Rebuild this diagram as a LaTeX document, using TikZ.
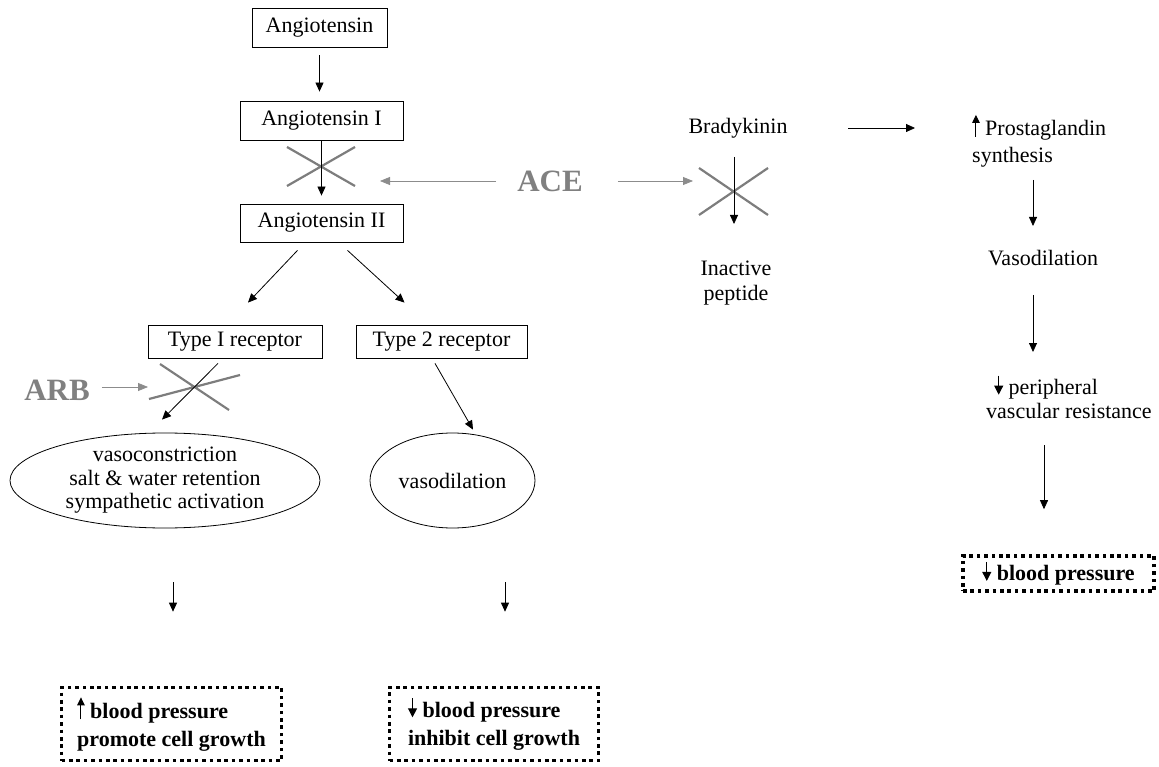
\documentclass[tikz,border=0pt]{standalone}
\usepackage{fontspec}
\setmainfont{Liberation Serif}
\usepackage{tikz}
\usetikzlibrary{arrows.meta,positioning,shapes.geometric,calc}
\definecolor{acegray}{RGB}{128,128,128}
\definecolor{xgray}{RGB}{125,125,125}
\definecolor{lightarr}{RGB}{140,140,140}
\newcommand{\txtsize}{\fontsize{22}{24}\selectfont}
\newcommand{\upmark}{\tikz[baseline=0pt]\draw[solid, black, line width=1pt, -{Triangle[length=8pt,width=7.5pt]}] (0pt,-1pt) -- (0pt,21pt);}
\newcommand{\downmark}{\tikz[baseline=0pt]\draw[solid, black, line width=1pt, -{Triangle[length=9pt,width=9pt]}] (0pt,19pt) -- (0pt,0pt);}
\tikzset{
  pbox/.style={draw, line width=0.8pt, font=\txtsize, inner sep=0pt, minimum height=38pt},
  oval/.style={draw, ellipse, line width=0.8pt, font=\fontsize{22}{23.5}\selectfont,
               align=center, inner sep=0pt, minimum height=95pt},
  dotbox/.style={draw, line width=3.6pt, dash pattern=on 3.6pt off 3.8pt,
                 font=\fontsize{22}{28}\selectfont\bfseries, align=left, inner sep=0pt},
  plain/.style={font=\txtsize, inner sep=0pt, align=center},
  drug/.style={font=\fontsize{31}{34}\selectfont\bfseries, text=acegray, inner sep=0pt},
  flow/.style={line width=0.8pt, -{Triangle[length=9pt,width=8pt]}},
  hint/.style={line width=0.8pt, lightarr, -{Triangle[length=10pt,width=8pt]}},
  block/.style={line width=2.2pt, xgray},
}
\begin{document}
\begin{tikzpicture}[x=1pt, y=-1pt]
\useasboundingbox (0,0) rectangle (1159,767);
% Angiotensin chain
\node[pbox, minimum width=135pt, minimum height=39pt] (ang) at (319.5,27.5) {Angiotensin};
\node[pbox, minimum width=163pt, minimum height=39pt] (ang1) at (321.5,120.5) {Angiotensin I};
\node[pbox, minimum width=163pt] (ang2) at (321.5,223) {Angiotensin II};
\node[pbox, minimum width=174pt, minimum height=33pt] (rec1) at (235,341.5) {Type I receptor};
\node[pbox, minimum width=171pt, minimum height=33pt] (rec2) at (441.5,341.5) {Type 2 receptor};
\node[oval, minimum width=310pt] (eff1) at (165,480.5) {vasoconstriction\\salt \& water retention\\sympathetic activation};
\node[oval, minimum width=165pt] (eff2) at (452.5,480.5) {vasodilation};
\node[dotbox, minimum width=220pt, minimum height=73pt] (bp1) at (171.5,724) {\upmark\ blood pressure\\promote cell growth};
\node[dotbox, minimum width=209pt, minimum height=73pt] (bp2) at (494,724) {\downmark\ blood pressure\\inhibit cell growth};
% Bradykinin side
\node[plain] (brady) at (738,128) {Bradykinin};
\node[plain, font=\fontsize{22}{25}\selectfont] (inact) at (736,283) {Inactive\\peptide};
\node[plain, font=\fontsize{22}{27}\selectfont, align=left, anchor=west] (prost) at (972,141) {\upmark\ Prostaglandin\\synthesis};
\node[plain] (vaso) at (1043,258) {Vasodilation};
\node[plain, align=left, anchor=west] (periph) at (986,397) {\hspace{8pt}\downmark\ peripheral\\vascular resistance};
\node[dotbox, minimum width=191pt, minimum height=35pt] (bp3) at (1058.5,573.5) {\downmark\ blood pressure};
% Inhibitors
\node[drug] (ace) at (550,181) {ACE};
\node[drug] (arb) at (57,390) {ARB};
\coordinate (aceL) at (380,181);
\coordinate (aceR) at (693,181);
\coordinate (arbR) at (148,387);
% Crossed-out steps
\draw[block] (287,147) -- (355,186) (287,186) -- (355,147);
\draw[block] (699,168) -- (768,215) (699,215) -- (768,168);
\draw[block] (149,399) -- (240,375) (160,364) -- (229,410);
% Arrows, left
\draw[flow, shorten <=8pt, shorten >=9pt] (ang.south) -- (ang.south |- ang1.north);
\draw[flow, shorten >=8pt] (ang1.south) -- (ang2.north);
\draw[flow] ([xshift=-24pt,yshift=-8pt]ang2.south) -- ([xshift=13pt,yshift=22pt]rec1.north);
\draw[flow] ([xshift=26pt,yshift=-8pt]ang2.south) -- ([xshift=-37pt,yshift=22pt]rec2.north);
\draw[flow] ([xshift=-17pt,yshift=-5pt]rec1.south) -- ([xshift=-3pt,yshift=13pt]eff1.north);
\draw[flow] ([xshift=-6.5pt,yshift=-5pt]rec2.south) -- ([xshift=20.5pt,yshift=3pt]eff2.north);
\draw[flow] ([xshift=8pt,yshift=-54pt]eff1.south) -- ([xshift=1.5pt,yshift=74pt]bp1.north);
\draw[flow] ([xshift=52.5pt,yshift=-54pt]eff2.south) -- ([xshift=11pt,yshift=74pt]bp2.north);
% Arrows, right
\draw[flow] ([xshift=-4pt,yshift=-29pt]brady.center) -- ([xshift=-2pt,yshift=59pt]inact.center);
\draw[flow] ([xshift=110pt]brady.center) -- ([xshift=-57pt,yshift=13pt]prost.west);
\draw[flow] ([xshift=61pt,yshift=-39pt]prost.west) -- ([xshift=-10pt,yshift=32pt]vaso.center);
\draw[flow] ([xshift=-10pt,yshift=-37pt]vaso.center) -- ([xshift=47pt,yshift=45pt]periph.west);
\draw[flow] ([xshift=58pt,yshift=-48pt]periph.west) -- ([xshift=-14.5pt,yshift=45pt]bp3.north);
% Drug arrows
\draw[hint, shorten <=21pt] (ace) -- (aceL);
\draw[hint, shorten <=35pt] (ace) -- (aceR);
\draw[hint, shorten <=12pt] ([yshift=3pt]arb.east) -- (arbR);
\end{tikzpicture}
\end{document}
